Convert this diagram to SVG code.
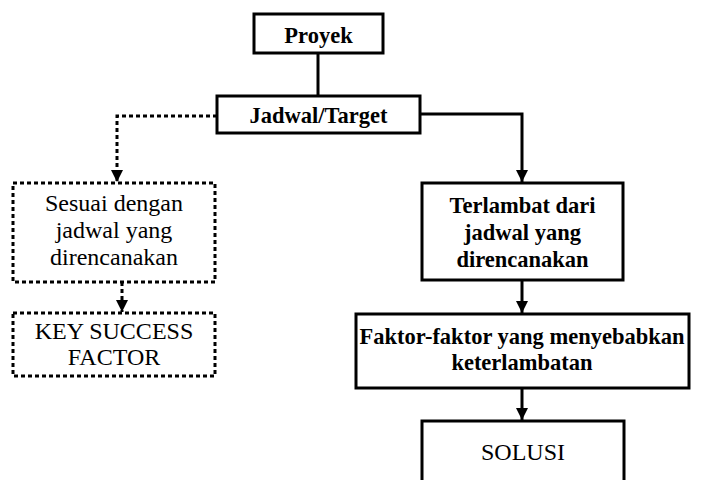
<svg xmlns="http://www.w3.org/2000/svg" width="702" height="480" viewBox="0 0 702 480">
<style>
.box{fill:#fff;stroke:#000;stroke-width:3}
.dbox{fill:#fff;stroke:#000;stroke-width:3;stroke-dasharray:4 3}
text{font-family:'Liberation Serif','DejaVu Serif','Times New Roman',serif;fill:#000;text-anchor:middle}
.t{font-size:24px}
.b{font-size:22.5px;font-weight:bold}
.ln{fill:none;stroke:#000;stroke-width:3}
.dl{fill:none;stroke:#000;stroke-width:3;stroke-dasharray:4 3}
</style>
<defs>
<marker id="ah" markerUnits="userSpaceOnUse" markerWidth="13" markerHeight="12" refX="12" refY="6" orient="auto" viewBox="0 0 13 12">
<path d="M0,0 L12,6 L0,12 Z" fill="#000"/>
</marker>
</defs>
<g id="connectors">
<line class="ln" x1="318" y1="53" x2="318" y2="96"/>
<polyline class="ln" points="420,114 522,114 522,182" marker-end="url(#ah)"/>
<polyline class="dl" points="217,116 117,116 117,182" marker-end="url(#ah)"/>
<line class="dl" x1="122" y1="282" x2="122" y2="312" marker-end="url(#ah)"/>
<line class="ln" x1="522" y1="280" x2="522" y2="313" marker-end="url(#ah)"/>
<line class="ln" x1="522" y1="388" x2="522" y2="420" marker-end="url(#ah)"/>
</g>
<g id="proyek">
<rect class="box" x="254" y="14" width="129" height="39"/>
<text class="b" x="318.5" y="43" font-family="Liberation Serif, serif">Proyek</text>
</g>
<g id="jadwal">
<rect class="box" x="217" y="96" width="203" height="37"/>
<text class="b" x="318.5" y="123">Jadwal/Target</text>
</g>
<g id="sesuai">
<rect class="dbox" x="13" y="183" width="202" height="99"/>
<text class="t" x="114" y="211">Sesuai dengan</text>
<text class="t" x="114" y="238">jadwal yang</text>
<text class="t" x="114" y="265">direncanakan</text>
</g>
<g id="ksf">
<rect class="dbox" x="13" y="313" width="202" height="63"/>
<text class="t" x="114" y="339">KEY SUCCESS</text>
<text class="t" x="114" y="365">FACTOR</text>
</g>
<g id="terlambat">
<rect class="box" x="422" y="183" width="201" height="97"/>
<text class="b" x="522.5" y="213">Terlambat dari</text>
<text class="b" x="522.5" y="240">jadwal yang</text>
<text class="b" x="522.5" y="267">direncanakan</text>
</g>
<g id="faktor">
<rect class="box" x="356" y="314" width="333" height="74"/>
<text class="b" x="522" y="344">Faktor-faktor yang menyebabkan</text>
<text class="b" x="522" y="370">keterlambatan</text>
</g>
<g id="solusi">
<rect class="box" x="422" y="421" width="202" height="70"/>
<text class="t" x="523" y="460">SOLUSI</text>
</g>
</svg>
